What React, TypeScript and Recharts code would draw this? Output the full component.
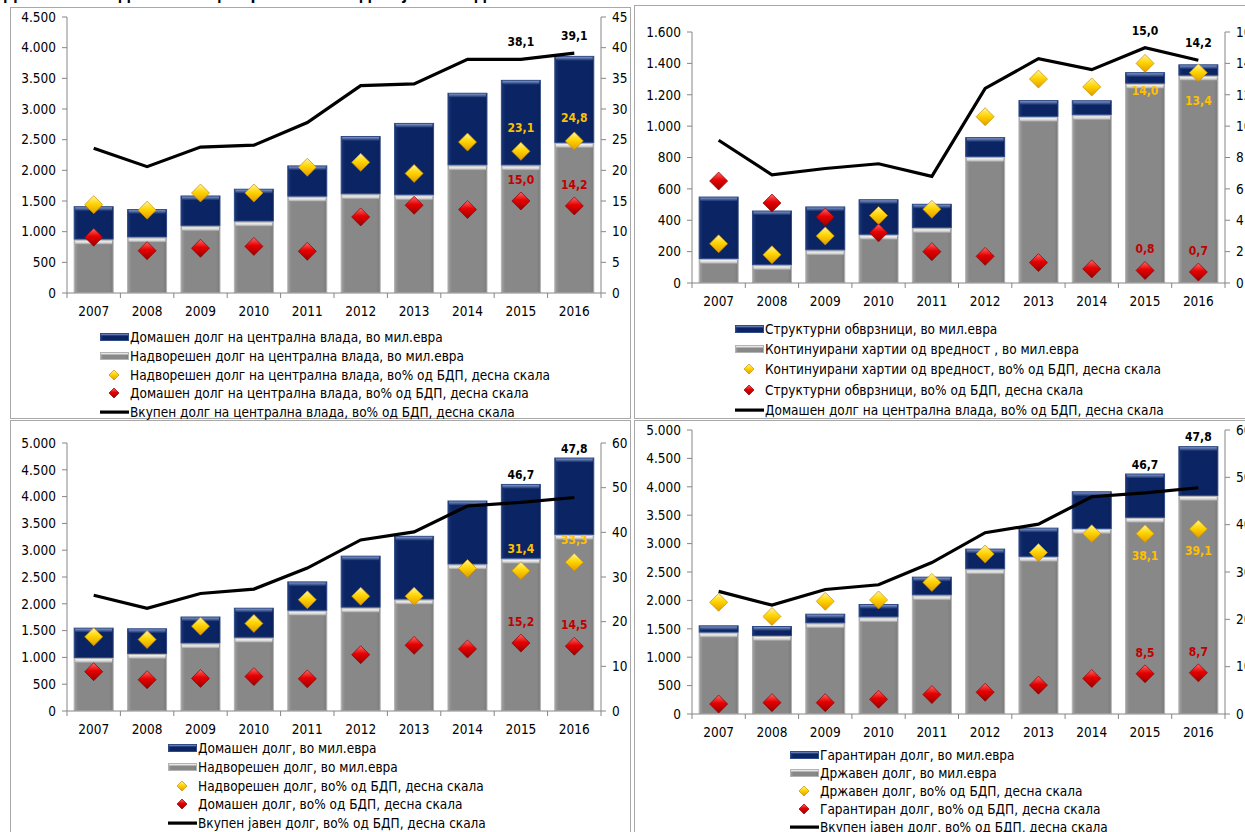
import React from 'react';
import { ComposedChart, Bar, Line, XAxis, YAxis, LabelList } from 'recharts';

const FONT = '"DejaVu Sans Condensed", "Liberation Sans", sans-serif';
const AXIS_GRAY = '#868686';
const FRAME_GRAY = '#a8a8a8';

const YEARS = ['2007', '2008', '2009', '2010', '2011', '2012', '2013', '2014', '2015', '2016'];
const FIRST_LABELED = YEARS.indexOf('2015');

// Shared % of GDP series
const CG_DOMESTIC_GDP = [9.1, 6.9, 7.3, 7.6, 6.8, 12.4, 14.3, 13.6, 15.0, 14.2];
const CG_TOTAL_GDP = [23.6, 20.6, 23.8, 24.1, 27.8, 33.8, 34.1, 38.1, 38.1, 39.1];
const PUBLIC_TOTAL_GDP = [25.9, 23.0, 26.3, 27.3, 32.0, 38.3, 40.1, 45.9, 46.7, 47.8];

// Central government debt, mil. EUR
const CG_EXTERNAL_EUR = [870, 905, 1090, 1165, 1570, 1610, 1595, 2080, 2080, 2445];
const CG_DOMESTIC_EUR = [545, 463, 500, 535, 510, 950, 1178, 1185, 1395, 1421];
const CG_EXTERNAL_GDP = [14.4, 13.5, 16.3, 16.3, 20.5, 21.3, 19.5, 24.6, 23.1, 24.8];

// Domestic central government debt by instrument, mil. EUR
const CONT_SECURITIES_EUR = [153, 114, 208, 307, 350, 803, 1059, 1070, 1270, 1321];
const STRUCT_BONDS_EUR = [398, 348, 280, 227, 155, 127, 107, 95, 74, 73];
const CONT_SECURITIES_GDP = [2.5, 1.8, 3.0, 4.3, 4.7, 10.6, 13.0, 12.5, 14.0, 13.4];
const STRUCT_BONDS_GDP = [6.5, 5.1, 4.2, 3.2, 2.0, 1.7, 1.3, 0.9, 0.8, 0.7];

// Public debt, domestic vs external, mil. EUR
const PUB_EXTERNAL_EUR = [989, 1064, 1259, 1366, 1870, 1927, 2078, 2733, 2840, 3285];
const PUB_DOMESTIC_EUR = [566, 479, 504, 561, 548, 971, 1190, 1194, 1396, 1444];
const PUB_EXTERNAL_GDP = [16.6, 16.0, 19.0, 19.6, 24.9, 25.7, 25.7, 31.9, 31.4, 33.3];
const PUB_DOMESTIC_GDP = [8.8, 7.0, 7.3, 7.7, 7.2, 12.6, 14.7, 13.9, 15.2, 14.5];

// Public debt, state vs guaranteed, mil. EUR
const STATE_EUR = [1432, 1373, 1596, 1702, 2089, 2547, 2766, 3257, 3453, 3839];
const GUARANTEED_EUR = [129, 176, 170, 235, 329, 365, 515, 664, 781, 877];
const GUARANTEED_GDP = [2.1, 2.4, 2.4, 3.1, 4.1, 4.6, 6.1, 7.5, 8.5, 8.7];

const LEGEND_1 = [
  'Домашен долг на централна влада, во мил.евра',
  'Надворешен долг на централна влада, во мил.евра',
  'Надворешен долг на централна влада, во% од БДП, десна скала',
  'Домашен долг на централна влада, во% од БДП, десна скала',
  'Вкупен долг на централна влада, во% од БДП, десна скала',
];
const LEGEND_2 = [
  'Структурни обврзници, во мил.евра',
  'Континуирани хартии од вредност , во мил.евра',
  'Континуирани хартии од вредност, во% од БДП, десна скала',
  'Структурни обврзници, во% од БДП, десна скала',
  'Домашен долг на централна влада, во% од БДП, десна скала',
];
const LEGEND_3 = [
  'Домашен долг, во мил.евра',
  'Надворешен долг, во мил.евра',
  'Надворешен долг, во% од БДП, десна скала',
  'Домашен долг, во% од БДП, десна скала',
  'Вкупен јавен долг, во% од БДП, десна скала',
];
const LEGEND_4 = [
  'Гарантиран долг, во мил.евра',
  'Државен долг, во мил.евра',
  'Државен долг, во% од БДП, десна скала',
  'Гарантиран долг, во% од БДП, десна скала',
  'Вкупен јавен долг, во% од БДП, десна скала',
];

interface Row {
  year: string;
  lower: number;
  upper: number;
  gold: number;
  red: number;
  total: number;
  goldLabel: number | null;
  redLabel: number | null;
  totalLabel: number | null;
}

function buildRows(lower: number[], upper: number[], gold: number[], red: number[], total: number[]): Row[] {
  return YEARS.map((year, i) => ({
    year,
    lower: lower[i],
    upper: upper[i],
    gold: gold[i],
    red: red[i],
    total: total[i],
    goldLabel: i >= FIRST_LABELED ? gold[i] : null,
    redLabel: i >= FIRST_LABELED ? red[i] : null,
    totalLabel: i >= FIRST_LABELED ? total[i] : null,
  }));
}

const fmt1 = (v: number) => v.toFixed(1).replace('.', ',');
const fmtThousands = (v: number) => String(v).replace(/\B(?=(\d{3})+(?!\d))/g, '.');
const steps = (max: number, step: number) => Array.from({ length: Math.round(max / step) + 1 }, (_, i) => i * step);

function BevelBar(props: any) {
  const { x, y, width, height, tone } = props;
  if (!(height > 0)) return <g />;
  const cap = Math.min(4, height - 1);
  return (
    <g>
      <rect
        x={x + 0.5}
        y={y + 0.5}
        width={width - 1}
        height={height - 1}
        fill={`url(#${tone}Body)`}
        stroke={tone === 'navy' ? '#2f4a86' : '#b2b2b2'}
        strokeWidth={1}
      />
      {cap > 0 && <rect x={x + 1.5} y={y + 1} width={width - 3} height={cap} fill={`url(#${tone}Cap)`} />}
    </g>
  );
}

function Diamond({ cx, cy, tone, r = 9 }: { cx?: number; cy?: number; tone: string; r?: number }) {
  if (cx == null || cy == null) return <g />;
  return (
    <polygon
      points={`${cx},${cy - r} ${cx + r},${cy} ${cx},${cy + r} ${cx - r},${cy}`}
      fill={`url(#${tone}Gem)`}
      stroke={tone === 'gold' ? '#c48c00' : '#8a0000'}
      strokeWidth={0.7}
    />
  );
}

const makeLabel = (color: string, dy: number) => (props: any) => {
  const { value } = props;
  if (value == null) return null;
  const vb = props.viewBox && props.viewBox.x != null ? props.viewBox : props;
  const cx = vb.x + (vb.width || 0) / 2;
  return (
    <text
      x={cx}
      y={vb.y + dy}
      textAnchor="middle"
      dominantBaseline="central"
      fill={color}
      fontSize={12}
      fontWeight="bold"
      fontFamily={FONT}
    >
      {fmt1(value)}
    </text>
  );
};

function YearTick(props: any) {
  const { x, y, payload, index, half } = props;
  const last = index === YEARS.length - 1;
  return (
    <g>
      <line x1={x - half} x2={x - half} y1={y} y2={y + 5} stroke={AXIS_GRAY} />
      {last && <line x1={x + half} x2={x + half} y1={y} y2={y + 5} stroke={AXIS_GRAY} />}
      <text x={x} y={y + 18} textAnchor="middle" dominantBaseline="central" fontSize={13.5} fontFamily={FONT} fill="#000">
        {payload.value}
      </text>
    </g>
  );
}

interface PanelSpec {
  left: number;
  top: number;
  width: number;
  height: number;
  marginTop: number;
  leftAxisWidth: number;
  rightAxisWidth: number;
  xAxisHeight: number;
  leftMax: number;
  leftStep: number;
  rightMax: number;
  rightStep: number;
  rows: Row[];
  totalOnBar: boolean;
  goldDy: number;
}

function DebtPanel({ spec }: { spec: PanelSpec }) {
  const plotWidth = spec.width - spec.leftAxisWidth - spec.rightAxisWidth;
  const half = plotWidth / YEARS.length / 2;
  const axisTick = { fill: '#000', fontSize: 13.5, fontFamily: FONT };
  return (
    <div style={{ position: 'absolute', left: spec.left, top: spec.top }}>
      <ComposedChart
        width={spec.width}
        height={spec.height}
        data={spec.rows}
        margin={{ top: spec.marginTop, right: 0, bottom: 0, left: 0 }}
        barCategoryGap="12.5%"
      >
        <XAxis
          dataKey="year"
          height={spec.xAxisHeight}
          interval={0}
          tickLine={false}
          tickSize={0}
          tickMargin={0}
          axisLine={{ stroke: AXIS_GRAY }}
          tick={(p: any) => <YearTick {...p} half={half} />}
        />
        <YAxis
          yAxisId="left"
          orientation="left"
          width={spec.leftAxisWidth}
          domain={[0, spec.leftMax]}
          ticks={steps(spec.leftMax, spec.leftStep)}
          interval={0}
          tickFormatter={fmtThousands}
          tick={axisTick}
          tickSize={5}
          tickMargin={6}
          axisLine={{ stroke: AXIS_GRAY }}
          tickLine={{ stroke: AXIS_GRAY }}
        />
        <YAxis
          yAxisId="right"
          orientation="right"
          width={spec.rightAxisWidth}
          domain={[0, spec.rightMax]}
          ticks={steps(spec.rightMax, spec.rightStep)}
          interval={0}
          tick={axisTick}
          tickSize={5}
          tickMargin={6}
          axisLine={{ stroke: AXIS_GRAY }}
          tickLine={{ stroke: AXIS_GRAY }}
        />
        <Bar
          yAxisId="left"
          dataKey="lower"
          stackId="eur"
          isAnimationActive={false}
          shape={(p: any) => <BevelBar {...p} tone="gray" />}
        />
        <Bar
          yAxisId="left"
          dataKey="upper"
          stackId="eur"
          isAnimationActive={false}
          shape={(p: any) => <BevelBar {...p} tone="navy" />}
        >
          {spec.totalOnBar && <LabelList dataKey="totalLabel" content={makeLabel('#000', -9)} />}
        </Bar>
        <Line
          yAxisId="right"
          dataKey="total"
          type="linear"
          stroke="#000"
          strokeWidth={3.2}
          dot={false}
          activeDot={false}
          isAnimationActive={false}
        >
          {!spec.totalOnBar && <LabelList dataKey="totalLabel" content={makeLabel('#000', -17)} />}
        </Line>
        <Line
          yAxisId="right"
          dataKey="gold"
          stroke="none"
          activeDot={false}
          isAnimationActive={false}
          dot={(p: any) => <Diamond key={`gold-${p.index}`} cx={p.cx} cy={p.cy} tone="gold" />}
        >
          <LabelList dataKey="goldLabel" content={makeLabel('#FFC000', spec.goldDy)} />
        </Line>
        <Line
          yAxisId="right"
          dataKey="red"
          stroke="none"
          activeDot={false}
          isAnimationActive={false}
          dot={(p: any) => <Diamond key={`red-${p.index}`} cx={p.cx} cy={p.cy} tone="red" />}
        >
          <LabelList dataKey="redLabel" content={makeLabel('#C00000', -21)} />
        </Line>
      </ComposedChart>
    </div>
  );
}

function LegendIcon({ kind }: { kind: number }) {
  return (
    <svg width={29} height={12} style={{ display: 'block', flex: 'none' }}>
      {kind === 0 && (
        <g>
          <rect x={0.5} y={2.5} width={28} height={7} fill="url(#navyBody)" stroke="#2f4a86" />
          <rect x={1} y={3} width={27} height={2} fill="url(#navyCap)" />
        </g>
      )}
      {kind === 1 && (
        <g>
          <rect x={0.5} y={2.5} width={28} height={7} fill="url(#grayBody)" stroke="#b2b2b2" />
          <rect x={1} y={3} width={27} height={2} fill="url(#grayCap)" />
        </g>
      )}
      {kind === 2 && <Diamond cx={14} cy={6} r={5} tone="gold" />}
      {kind === 3 && <Diamond cx={14} cy={6} r={5} tone="red" />}
      {kind === 4 && <rect x={0} y={4.5} width={29} height={3.2} fill="#000" />}
    </svg>
  );
}

function PanelLegend({ x, y, gap, labels }: { x: number; y: number; gap: number; labels: string[] }) {
  return (
    <div style={{ position: 'absolute', left: x, top: y - gap / 2 }}>
      {labels.map((label, i) => (
        <div
          key={label}
          style={{
            display: 'flex',
            alignItems: 'center',
            height: gap,
            fontFamily: FONT,
            fontSize: 13.5,
            color: '#000',
            whiteSpace: 'nowrap',
          }}
        >
          <LegendIcon kind={i} />
          <span style={{ marginLeft: 1 }}>{label}</span>
        </div>
      ))}
    </div>
  );
}

const PANELS: PanelSpec[] = [
  {
    left: 10, top: 0, width: 622, height: 320, marginTop: 17,
    leftAxisWidth: 57, rightAxisWidth: 31, xAxisHeight: 27,
    leftMax: 4500, leftStep: 500, rightMax: 45, rightStep: 5,
    rows: buildRows(CG_EXTERNAL_EUR, CG_DOMESTIC_EUR, CG_EXTERNAL_GDP, CG_DOMESTIC_GDP, CG_TOTAL_GDP),
    totalOnBar: false, goldDy: -23,
  },
  {
    left: 636, top: 0, width: 640, height: 310, marginTop: 32,
    leftAxisWidth: 56, rightAxisWidth: 51, xAxisHeight: 27,
    leftMax: 1600, leftStep: 200, rightMax: 16, rightStep: 2,
    rows: buildRows(CONT_SECURITIES_EUR, STRUCT_BONDS_EUR, CONT_SECURITIES_GDP, STRUCT_BONDS_GDP, CG_DOMESTIC_GDP),
    totalOnBar: false, goldDy: 28,
  },
  {
    left: 10, top: 420, width: 622, height: 320, marginTop: 23,
    leftAxisWidth: 57, rightAxisWidth: 31, xAxisHeight: 29,
    leftMax: 5000, leftStep: 500, rightMax: 60, rightStep: 10,
    rows: buildRows(PUB_EXTERNAL_EUR, PUB_DOMESTIC_EUR, PUB_EXTERNAL_GDP, PUB_DOMESTIC_GDP, PUBLIC_TOTAL_GDP),
    totalOnBar: true, goldDy: -22,
  },
  {
    left: 636, top: 420, width: 640, height: 320, marginTop: 10,
    leftAxisWidth: 56, rightAxisWidth: 51, xAxisHeight: 26,
    leftMax: 5000, leftStep: 500, rightMax: 60, rightStep: 10,
    rows: buildRows(STATE_EUR, GUARANTEED_EUR, CG_TOTAL_GDP, GUARANTEED_GDP, PUBLIC_TOTAL_GDP),
    totalOnBar: true, goldDy: 22,
  },
];

const LEGENDS = [
  { x: 100, y: 337, gap: 18.8, labels: LEGEND_1 },
  { x: 735, y: 329, gap: 20.2, labels: LEGEND_2 },
  { x: 168, y: 748, gap: 18.8, labels: LEGEND_3 },
  { x: 790, y: 755, gap: 18, labels: LEGEND_4 },
];

const FRAMES = [
  { left: 10, top: 7, width: 621, height: 412 },
  { left: 634, top: 5, width: 640, height: 414 },
  { left: 10, top: 420, width: 621, height: 430 },
  { left: 634, top: 420, width: 640, height: 430 },
];

function Gradients() {
  return (
    <svg width={0} height={0} style={{ position: 'absolute' }}>
      <defs>
        <linearGradient id="navyBody" x1="0" x2="1" y1="0" y2="0">
          <stop offset="0%" stopColor="#1d3878" />
          <stop offset="10%" stopColor="#0b2463" />
          <stop offset="90%" stopColor="#0b2463" />
          <stop offset="100%" stopColor="#0a1f55" />
        </linearGradient>
        <linearGradient id="navyCap" x1="0" x2="0" y1="0" y2="1">
          <stop offset="0%" stopColor="#7f97c9" />
          <stop offset="100%" stopColor="#0b2463" />
        </linearGradient>
        <linearGradient id="grayBody" x1="0" x2="1" y1="0" y2="0">
          <stop offset="0%" stopColor="#a2a2a2" />
          <stop offset="10%" stopColor="#888888" />
          <stop offset="90%" stopColor="#888888" />
          <stop offset="100%" stopColor="#7a7a7a" />
        </linearGradient>
        <linearGradient id="grayCap" x1="0" x2="0" y1="0" y2="1">
          <stop offset="0%" stopColor="#f5f5f5" />
          <stop offset="55%" stopColor="#d4d4d4" />
          <stop offset="100%" stopColor="#8c8c8c" />
        </linearGradient>
        <linearGradient id="goldGem" x1="0" x2="0" y1="0" y2="1">
          <stop offset="0%" stopColor="#fff3a3" />
          <stop offset="45%" stopColor="#ffd500" />
          <stop offset="100%" stopColor="#e39a00" />
        </linearGradient>
        <linearGradient id="redGem" x1="0" x2="0" y1="0" y2="1">
          <stop offset="0%" stopColor="#ff6a6a" />
          <stop offset="45%" stopColor="#e60000" />
          <stop offset="100%" stopColor="#9a0000" />
        </linearGradient>
      </defs>
    </svg>
  );
}

export default function App() {
  return (
    <div style={{ position: 'absolute', left: 0, top: 0, width: 1245, height: 832, overflow: 'hidden', background: '#fff' }}>
      <Gradients />
      <div style={{ position: 'absolute', left: 4, top: 0, height: 5, width: 600, overflow: 'hidden' }}>
        <div style={{ marginTop: -17, fontFamily: '"Liberation Sans", sans-serif', fontWeight: 'bold', fontSize: 18, whiteSpace: 'nowrap' }}>
          Движење на долгот на централната влада и јавниот долг
        </div>
      </div>
      {FRAMES.map((f, i) => (
        <div
          key={i}
          style={{ position: 'absolute', ...f, boxSizing: 'border-box', border: `1.5px solid ${FRAME_GRAY}` }}
        />
      ))}
      {PANELS.map((spec, i) => (
        <DebtPanel key={i} spec={spec} />
      ))}
      {LEGENDS.map((l, i) => (
        <PanelLegend key={i} {...l} />
      ))}
    </div>
  );
}
